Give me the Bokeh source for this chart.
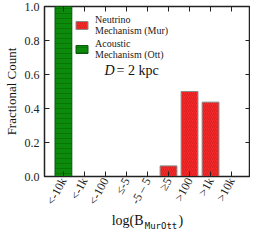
from bokeh.plotting import figure
from bokeh.models import (FactorRange, Range1d, LinearAxis, CategoricalAxis, Legend,
                          LegendItem, Label, FixedTicker, PrintfTickFormatter)
from bokeh.embed import file_html
from bokeh.resources import INLINE

categories = ["<-10k", "<-1k", "<-100", "≤-5", "-5 – 5", "≥5", ">100", ">1k", ">10k"]
neutrino_mur = [0.0, 0.0, 0.0, 0.0, 0.0, 0.0625, 0.5, 0.4375, 0.0]
acoustic_ott = [1.0, 0.0, 0.0, 0.0, 0.0, 0.0, 0.0, 0.0, 0.0]
y_ticks = [0.0, 0.2, 0.4, 0.6, 0.8, 1.0]

SERIF = "Liberation Serif"
MONO = "DejaVu Sans Mono"
NB = "\u00a0"

p = figure(width=250, height=233, output_backend="svg", toolbar_location=None,
           x_range=FactorRange(*categories, range_padding=0.4, range_padding_units="absolute"),
           y_range=Range1d(0, 1.0),
           min_border_left=33, min_border_right=0, min_border_top=6, min_border_bottom=0)
p.background_fill_color = "white"
p.border_fill_color = "white"
p.grid.visible = False
p.outline_line_color = "#222222"
p.outline_line_width = 1.5

r_red = p.vbar(x=categories, top=neutrino_mur, width=0.8,
               fill_color="#f52a2a", line_color="#8a8a8a", line_width=1,
               hatch_pattern="/", hatch_color="#c81414", hatch_scale=4, hatch_alpha=0.55)
r_green = p.vbar(x=categories, top=acoustic_ott, width=0.8,
                 fill_color="#0c8a0c", line_color="#0a5a0a", line_width=1,
                 hatch_pattern="-", hatch_color="#067006", hatch_scale=5, hatch_alpha=0.8)

for ax in [p.xaxis[0], p.yaxis[0]]:
    ax.major_tick_in = 5
    ax.major_tick_out = 0
    ax.minor_tick_in = 0
    ax.minor_tick_out = 0
    ax.axis_line_color = "#222222"
    ax.major_tick_line_color = "#222222"
    ax.major_label_text_font = SERIF
    ax.major_label_text_color = "#222222"
    ax.axis_label_text_font = SERIF
    ax.axis_label_text_font_style = "normal"
    ax.axis_label_text_color = "#111111"

p.yaxis[0].ticker = FixedTicker(ticks=y_ticks)
p.yaxis[0].formatter = PrintfTickFormatter(format="%.1f")
p.yaxis[0].major_label_text_font_size = "12px"
p.yaxis[0].axis_label = "Fractional Count"
p.yaxis[0].axis_label_text_font_size = "13px"
p.yaxis[0].axis_label_standoff = 3

xa = p.xaxis[0]
xa.major_label_orientation = 1.08
xa.major_label_text_font_size = "12px"
xa.major_label_standoff = 2
xa.axis_label = "log(B" + NB * 10 + ")"
xa.axis_label_text_font_size = "14px"
xa.axis_label_standoff = 0

# subscript of the x label, on an extra bare axis pulled up under the main one
sub_ax = CategoricalAxis(ticker=FixedTicker(ticks=[]), axis_line_color=None,
                         major_tick_in=0, major_tick_out=0, minor_tick_in=0, minor_tick_out=0,
                         major_tick_line_color=None, minor_tick_line_color=None,
                         major_label_standoff=0,
                         axis_label=NB * 5 + "MurOtt", axis_label_text_font=MONO,
                         axis_label_text_font_style="normal",
                         axis_label_text_font_size="9px", axis_label_text_color="#111111",
                         axis_label_standoff=-11)
p.add_layout(sub_ax, "below")

top_ax = CategoricalAxis(major_tick_in=5, major_tick_out=0, axis_line_color=None,
                         major_tick_line_color="#222222", major_label_standoff=0,
                         major_label_text_color=None, major_label_text_font_size="0px")
p.add_layout(top_ax, "above")
right_ax = LinearAxis(ticker=FixedTicker(ticks=y_ticks), major_tick_in=5, major_tick_out=0,
                      minor_tick_in=0, minor_tick_out=0, major_label_standoff=0,
                      major_label_text_color=None, major_label_text_font_size="0px",
                      axis_line_color=None, major_tick_line_color="#222222")
p.add_layout(right_ax, "right")

legend = Legend(items=[LegendItem(label="Neutrino\nMechanism (Mur)", renderers=[r_red]),
                       LegendItem(label="Acoustic\nMechanism (Ott)", renderers=[r_green])],
                location=(30, 116), background_fill_alpha=0, border_line_alpha=0,
                label_text_font=SERIF, label_text_font_size="10px", label_text_color="#222222",
                label_text_line_height=1.25,
                glyph_width=15, glyph_height=10, spacing=2, padding=0, margin=0,
                label_standoff=6)
p.add_layout(legend)

p.add_layout(Label(x=60, y=99, x_units="screen", y_units="screen", text="D",
                   text_font=SERIF, text_font_style="italic", text_font_size="14px",
                   text_color="#111111"))
p.add_layout(Label(x=72, y=99, x_units="screen", y_units="screen", text="= 2 kpc",
                   text_font=SERIF, text_font_size="14px", text_color="#111111"))

open("out.html", "w").write(file_html(p, INLINE))
